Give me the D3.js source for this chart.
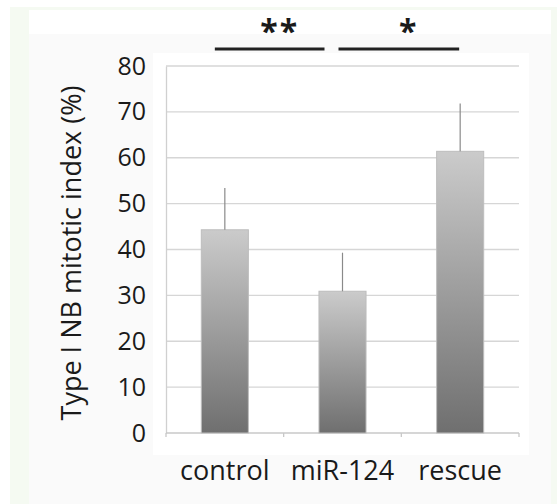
<!DOCTYPE html>
<html lang="en">
<head>
    <meta charset="UTF-8">
    <title>Type I NB mitotic index</title>
    <script src="https://d3js.org/d3.v7.min.js"></script>
    <style>
        * {
            margin: 0;
            padding: 0;
        }
        body {
            background-color: white;
            font-family: "Open Sans", Arial, sans-serif;
        }
        text {
            fill: #1a1a1a;
        }
    </style>
</head>
<body>
<div id="chart"></div>
<script>
// chart values
const categories = ["control", "miR-124", "rescue"];
const values = [44.3, 30.9, 61.4];
const errors = [9.1, 8.4, 10.4];
const yTicks = [0, 10, 20, 30, 40, 50, 60, 70, 80];
const sigPairs = [[0, 1], [1, 2]];
const sigLabels = ["**", "*"];

const W = 557, H = 504;
const svg = d3.select("#chart").append("svg")
    .attr("width", W)
    .attr("height", H);

// background panels
svg.append("rect").attr("x", 10).attr("y", 7).attr("width", W - 10).attr("height", H - 7).attr("fill", "#f5faf2");
svg.append("rect").attr("x", 29).attr("y", 10).attr("width", 522).attr("height", H - 10).attr("fill", "#fafafa");
svg.append("rect").attr("x", 29).attr("y", 10).attr("width", 522).attr("height", 24).attr("fill", "#ffffff");
svg.append("rect").attr("x", 153).attr("y", 53).attr("width", 376).attr("height", 402).attr("fill", "#ffffff");

const x = d3.scaleBand()
    .domain(categories)
    .range([166, 519])
    .paddingInner(0.6)
    .paddingOuter(0.3);

const y = d3.scaleLinear()
    .domain([0, 80])
    .range([433, 66]);

// gradient for bars
const grad = svg.append("defs").append("linearGradient")
    .attr("id", "barGrad")
    .attr("x1", 0).attr("y1", 0).attr("x2", 0).attr("y2", 1);
grad.append("stop").attr("offset", "0%").attr("stop-color", "#cbcbcb");
grad.append("stop").attr("offset", "100%").attr("stop-color", "#6f6f6f");

// gridlines
svg.append("g")
    .selectAll("line")
    .data(yTicks.filter(d => d > 0))
    .join("line")
    .attr("x1", 166).attr("x2", 519)
    .attr("y1", d => y(d)).attr("y2", d => y(d))
    .attr("stroke", "#d6d6d6")
    .attr("stroke-width", 1.3);

// y axis
const yAxis = svg.append("g")
    .attr("transform", "translate(166,0)")
    .call(d3.axisLeft(y).tickValues(yTicks).tickSize(0).tickPadding(20));
yAxis.select(".domain").attr("stroke", "#d0d0d0").attr("stroke-width", 1.3);
yAxis.selectAll("text")
    .style("font-family", "'Open Sans', sans-serif")
    .style("font-size", "25px")
    .attr("fill", "#1a1a1a");

// x axis baseline + category ticks
const bounds = [166].concat(categories.map(c => x(c) + x.bandwidth() / 2 + x.step() / 2));
svg.append("line")
    .attr("x1", 166).attr("x2", 519)
    .attr("y1", y(0)).attr("y2", y(0))
    .attr("stroke", "#c8c8c8").attr("stroke-width", 1.3);
svg.append("g").selectAll("line")
    .data(bounds)
    .join("line")
    .attr("x1", d => d).attr("x2", d => d)
    .attr("y1", y(0)).attr("y2", y(0) + 4)
    .attr("stroke", "#c8c8c8").attr("stroke-width", 1.3);

// bars
const data = categories.map((c, i) => ({ c, v: values[i], e: errors[i] }));
svg.append("g").selectAll("rect")
    .data(data)
    .join("rect")
    .attr("x", d => x(d.c))
    .attr("y", d => y(d.v))
    .attr("width", x.bandwidth())
    .attr("height", d => y(0) - y(d.v))
    .attr("fill", "url(#barGrad)")
    .attr("stroke", "#bdbdbd")
    .attr("stroke-width", 1);

// error bars (upper only)
svg.append("g").selectAll("line")
    .data(data)
    .join("line")
    .attr("x1", d => x(d.c) + x.bandwidth() / 2)
    .attr("x2", d => x(d.c) + x.bandwidth() / 2)
    .attr("y1", d => y(d.v))
    .attr("y2", d => y(d.v + d.e))
    .attr("stroke", "#8a8a8a")
    .attr("stroke-width", 1.2);

// category labels
svg.append("g").selectAll("text")
    .data(categories)
    .join("text")
    .attr("x", d => x(d) + x.bandwidth() / 2)
    .attr("y", 480)
    .attr("text-anchor", "middle")
    .style("font-size", "27px")
    .text(d => d);

// y title
svg.append("text")
    .attr("transform", "translate(81,253) rotate(-90)")
    .attr("text-anchor", "middle")
    .style("font-size", "27px")
    .text("Type I NB mitotic index (%)");

// significance bars
const cx = c => x(c) + x.bandwidth() / 2;
const sigOff = [[-10, -18], [-4, -1]];
sigPairs.forEach((p, i) => {
    const x1 = cx(categories[p[0]]) + sigOff[i][0];
    const x2 = cx(categories[p[1]]) + sigOff[i][1];
    svg.append("line")
        .attr("x1", x1).attr("x2", x2)
        .attr("y1", 49).attr("y2", 49)
        .attr("stroke", "#222").attr("stroke-width", 3);
    svg.append("text")
        .attr("x", (x1 + x2) / 2 + 10)
        .attr("y", 43)
        .attr("text-anchor", "middle")
        .style("font-size", "32px")
        .style("font-weight", "bold")
        .style("letter-spacing", "2px")
        .text(sigLabels[i]);
});
</script>
</body>
</html>
